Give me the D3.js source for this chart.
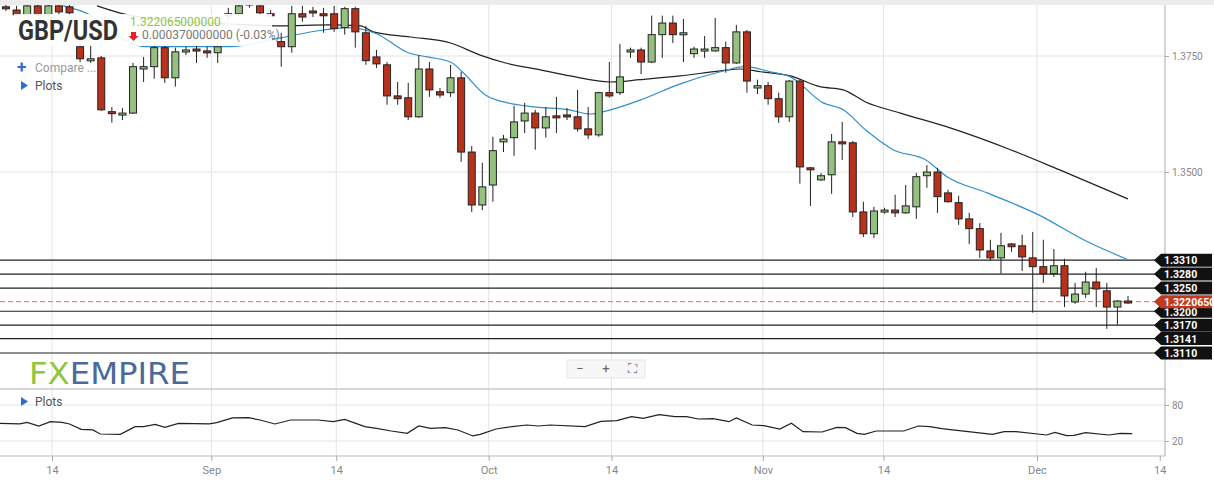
<!DOCTYPE html>
<html>
<head>
<meta charset="utf-8">
<script src="https://cdn.jsdelivr.net/npm/d3@7"></script>
<style>
  body { margin: 0; background: #fff; font-family: Roboto, "Open Sans", sans-serif; }
  svg { display: block; }
</style>
</head>
<body>
<div id="app"></div>
<script>
// daily candles, index 0..106 (left to right)
const opens  = [1.3856,1.3849,1.3839,1.3858,1.3839,1.3858,1.3856,1.3770,1.3742,1.3746,1.3630,1.3623,1.3627,1.3722,1.3727,1.3768,1.3703,1.3759,1.3765,1.3761,1.3757,1.3837,1.3841,1.3867,1.3858,1.3841,1.3781,1.3770,1.3841,1.3847,1.3841,1.3841,1.3811,1.3852,1.3800,1.3748,1.3731,1.3664,1.3660,1.3619,1.3722,1.3673,1.3671,1.3703,1.3543,1.3429,1.3472,1.3565,1.3574,1.3610,1.3627,1.3595,1.3621,1.3623,1.3619,1.3593,1.3580,1.3671,1.3671,1.3759,1.3763,1.3737,1.3796,1.3821,1.3796,1.3755,1.3761,1.3761,1.3768,1.3735,1.3802,1.3681,1.3686,1.3658,1.3619,1.3696,1.3509,1.3483,1.3494,1.3565,1.3563,1.3414,1.3367,1.3414,1.3418,1.3412,1.3425,1.3492,1.3500,1.3455,1.3434,1.3399,1.3378,1.3330,1.3315,1.3345,1.3341,1.3315,1.3296,1.3281,1.3298,1.3220,1.3237,1.3263,1.3244,1.3209,1.3222];
const closes = [1.3852,1.3839,1.3858,1.3839,1.3858,1.3845,1.3843,1.3744,1.3744,1.3634,1.3627,1.3627,1.3727,1.3727,1.3768,1.3703,1.3759,1.3763,1.3761,1.3757,1.3770,1.3841,1.3858,1.3860,1.3843,1.3839,1.3770,1.3841,1.3834,1.3843,1.3837,1.3809,1.3852,1.3802,1.3740,1.3733,1.3664,1.3658,1.3619,1.3722,1.3677,1.3666,1.3703,1.3543,1.3429,1.3468,1.3546,1.3571,1.3608,1.3627,1.3595,1.3619,1.3617,1.3619,1.3593,1.3580,1.3671,1.3664,1.3705,1.3763,1.3737,1.3796,1.3821,1.3796,1.3800,1.3765,1.3765,1.3768,1.3735,1.3802,1.3696,1.3686,1.3658,1.3619,1.3696,1.3511,1.3505,1.3492,1.3565,1.3561,1.3414,1.3367,1.3416,1.3418,1.3412,1.3427,1.3490,1.3500,1.3447,1.3436,1.3399,1.3378,1.3332,1.3315,1.3341,1.3339,1.3317,1.3296,1.3281,1.3298,1.3233,1.3237,1.3263,1.3248,1.3209,1.3222,1.3218];
const highs  = [1.3860,1.3858,1.3865,1.3865,1.3865,1.3867,1.3862,1.3785,1.3772,1.3750,1.3640,1.3638,1.3735,1.3748,1.3774,1.3774,1.3768,1.3770,1.3774,1.3770,1.3776,1.3854,1.3867,1.3871,1.3865,1.3849,1.3800,1.3858,1.3858,1.3856,1.3854,1.3858,1.3856,1.3856,1.3815,1.3763,1.3737,1.3694,1.3692,1.3752,1.3737,1.3681,1.3731,1.3716,1.3556,1.3520,1.3576,1.3580,1.3643,1.3649,1.3634,1.3640,1.3662,1.3638,1.3677,1.3640,1.3673,1.3737,1.3776,1.3768,1.3768,1.3837,1.3837,1.3837,1.3830,1.3770,1.3793,1.3832,1.3781,1.3817,1.3806,1.3699,1.3694,1.3671,1.3698,1.3698,1.3511,1.3498,1.3582,1.3608,1.3567,1.3436,1.3425,1.3423,1.3451,1.3472,1.3498,1.3515,1.3509,1.3462,1.3449,1.3412,1.3390,1.3354,1.3369,1.3347,1.3365,1.3371,1.3354,1.3334,1.3313,1.3261,1.3285,1.3293,1.3261,1.3224,1.3233];
const lows   = [1.3847,1.3837,1.3834,1.3837,1.3834,1.3837,1.3837,1.3737,1.3735,1.3632,1.3606,1.3612,1.3625,1.3694,1.3701,1.3692,1.3684,1.3752,1.3735,1.3746,1.3735,1.3828,1.3837,1.3854,1.3839,1.3834,1.3727,1.3757,1.3824,1.3834,1.3800,1.3802,1.3796,1.3768,1.3731,1.3724,1.3645,1.3645,1.3612,1.3617,1.3662,1.3660,1.3662,1.3522,1.3414,1.3418,1.3436,1.3543,1.3535,1.3584,1.3548,1.3574,1.3584,1.3612,1.3587,1.3571,1.3576,1.3660,1.3666,1.3746,1.3711,1.3735,1.3746,1.3778,1.3737,1.3746,1.3746,1.3759,1.3714,1.3733,1.3671,1.3668,1.3645,1.3606,1.3608,1.3475,1.3427,1.3481,1.3453,1.3526,1.3403,1.3360,1.3358,1.3410,1.3403,1.3410,1.3399,1.3466,1.3412,1.3434,1.3386,1.3345,1.3315,1.3309,1.3281,1.3328,1.3287,1.3197,1.3261,1.3274,1.3209,1.3216,1.3229,1.3209,1.3162,1.3171,1.3216];

// moving averages: [candle index, price]
const maFast = [[5.4,1.3858],[7.9,1.3839],[10.8,1.3790],[13.1,1.3770],[21.2,1.3770],[25.9,1.3789],[30.0,1.3806],[32.2,1.3811],[35.0,1.3798],[38.0,1.3757],[39.8,1.3748],[42.0,1.3737],[43.1,1.3716],[45.3,1.3666],[47.4,1.3649],[50.1,1.3640],[53.2,1.3634],[55.2,1.3625],[57.1,1.3634],[59.9,1.3655],[63.7,1.3690],[67.5,1.3716],[69.8,1.3727],[72.2,1.3716],[74.1,1.3705],[77.2,1.3649],[79.1,1.3634],[81.2,1.3591],[83.8,1.3548],[86.9,1.3526],[88.9,1.3490],[92.7,1.3455],[97.7,1.3406],[101.8,1.3354],[106,1.3311]];
const maSlow = [[8.6,1.3858],[11.4,1.3839],[14.6,1.3828],[21.2,1.3819],[25.9,1.3815],[30.6,1.3817],[33.5,1.3815],[34.7,1.3802],[38.2,1.3791],[42.0,1.3778],[44.8,1.3752],[47.2,1.3735],[50.5,1.3720],[53.3,1.3707],[57.1,1.3694],[59.9,1.3699],[63.7,1.3707],[67.5,1.3718],[69.4,1.3722],[71.3,1.3716],[74.1,1.3707],[76.9,1.3684],[79.1,1.3677],[81.2,1.3651],[84.5,1.3627],[89.2,1.3595],[94.9,1.3548],[99.6,1.3504],[106,1.3442]];

// lower pane oscillator: [candle index, value]
const osc = [[-0.6,49.5],[1.3,48.4],[2.0,51.1],[3.1,45.0],[4.2,52.2],[5.3,51.1],[6.0,48.4],[7.1,39.5],[8.2,38.4],[8.9,31.7],[10.8,31.1],[12.2,43.9],[13.0,43.9],[14.1,47.8],[15.0,42.8],[16.3,49.5],[19.2,48.4],[19.9,50.6],[21.4,58.4],[22.9,58.9],[24.0,55.0],[25.4,48.4],[26.9,55.0],[29.5,55.0],[30.9,52.2],[32.0,56.1],[33.9,43.9],[35.0,41.1],[36.4,36.7],[37.9,32.8],[39.0,45.0],[40.1,41.1],[41.5,42.2],[42.7,38.4],[44.1,28.4],[44.8,31.1],[46.3,40.0],[47.8,43.9],[49.2,46.7],[50.3,45.0],[51.4,46.7],[54.7,43.9],[56.2,52.8],[57.7,53.9],[59.1,60.6],[60.2,57.8],[61.7,63.9],[63.2,60.6],[64.3,60.6],[65.4,56.7],[66.8,57.2],[68.3,52.2],[69.0,58.3],[70.5,46.7],[71.6,45.6],[73.1,40.0],[74.2,49.5],[75.3,35.6],[77.1,35.0],[78.5,42.8],[79.3,42.2],[80.4,32.8],[81.1,31.1],[82.2,36.7],[84.8,36.7],[86.2,45.0],[87.3,43.9],[88.4,40.6],[93.2,31.1],[94.3,35.6],[95.4,35.6],[98.3,30.0],[99.1,34.4],[100.2,28.9],[100.9,29.4],[102.0,33.9],[104.2,30.0],[105.3,32.8],[106.4,32.2]];

const levels = [1.3310, 1.3280, 1.3250, 1.3200, 1.3170, 1.3141, 1.3110];
const lastPrice = 1.322065;
const priceTicks = [1.3750, 1.3500];
const oscTicks = [80, 20];
const dateTickPos = [4.35, 19.4, 31.2, 45.6, 57.2, 71.5, 82.9, 97.4, 109];
const dateTickLabels = ["14", "Sep", "14", "Oct", "14", "Nov", "14", "Dec", "14"];

const W = 1214, H = 484, axisX = 1165;
const svg = d3.select("#app").append("svg").attr("width", W).attr("height", H);

const x = d3.scaleLinear().domain([0, 106]).range([6, 1128]);
const y = d3.scaleLinear().domain([1.3110, 1.3750]).range([353, 56]);
const y2 = d3.scaleLinear().domain([20, 80]).range([441, 405]);

svg.append("rect").attr("width", W).attr("height", 5).attr("fill", "#ececec");

svg.append("defs").append("clipPath").attr("id", "main")
  .append("rect").attr("x", 0).attr("y", 5).attr("width", axisX).attr("height", 383);

// grid
const grid = svg.append("g").attr("stroke", "#e3e3e3").attr("stroke-width", 1);
dateTickPos.slice(0, -1).forEach(t => {
  grid.append("line").attr("x1", x(t)).attr("x2", x(t)).attr("y1", 5).attr("y2", 456);
});
priceTicks.forEach(t => grid.append("line").attr("x1", 0).attr("x2", axisX).attr("y1", y(t)).attr("y2", y(t)));
oscTicks.forEach(t => grid.append("line").attr("x1", 0).attr("x2", axisX).attr("y1", y2(t)).attr("y2", y2(t)));

const main = svg.append("g").attr("clip-path", "url(#main)");

// support / resistance
main.selectAll(".lvl").data(levels).join("line")
  .attr("x1", 0).attr("x2", axisX).attr("y1", d => y(d)).attr("y2", d => y(d))
  .attr("stroke", "#222").attr("stroke-width", 1.2);
main.append("line").attr("x1", 0).attr("x2", axisX)
  .attr("y1", y(lastPrice)).attr("y2", y(lastPrice))
  .attr("stroke", "#e0735f").attr("stroke-width", 1).attr("stroke-dasharray", "5,3");

// moving averages
const line = d3.line().x(d => x(d[0])).y(d => y(d[1])).curve(d3.curveMonotoneX);
main.append("path").attr("d", line(maSlow)).attr("fill", "none").attr("stroke", "#222").attr("stroke-width", 1.2);
main.append("path").attr("d", line(maFast)).attr("fill", "none").attr("stroke", "#2f8fd0").attr("stroke-width", 1.2);

// candles
const candles = d3.range(opens.length).map(i => ({ i, o: opens[i], c: closes[i], h: highs[i], l: lows[i] }));
const cg = main.selectAll(".c").data(candles).join("g");
cg.append("line")
  .attr("x1", d => x(d.i)).attr("x2", d => x(d.i))
  .attr("y1", d => y(d.h)).attr("y2", d => y(d.l))
  .attr("stroke", "#222").attr("stroke-width", 1);
cg.append("rect")
  .attr("x", d => x(d.i) - 3.5).attr("width", 7)
  .attr("y", d => y(Math.max(d.o, d.c)))
  .attr("height", d => Math.max(2, Math.abs(y(d.o) - y(d.c))))
  .attr("fill", d => d.c >= d.o ? "#94c17f" : "#b8311b")
  .attr("stroke", "#222").attr("stroke-width", 1);

// title overlay
svg.append("rect").attr("x", 14).attr("y", 14).attr("width", 258).attr("height", 32).attr("fill", "#fff").attr("opacity", 0.9);
svg.append("text").attr("x", 18).attr("y", 40).text("GBP/USD")
  .attr("font-size", 28).attr("font-weight", "bold").attr("fill", "#333").attr("font-family", "Roboto")
  .attr("textLength", 100).attr("lengthAdjust", "spacingAndGlyphs");
svg.append("text").attr("x", 130).attr("y", 26).text("1.322065000000").attr("font-size", 12).attr("fill", "#8dc63f");
svg.append("path").attr("d", "M131,32 h5 v4 h2.5 l-5,5 l-5,-5 h2.5 z").attr("fill", "#e8202a");
svg.append("text").attr("x", 142).attr("y", 39).text("0.000370000000 (-0.03%)").attr("font-size", 12).attr("fill", "#777");

svg.append("text").attr("x", 17).attr("y", 73).text("+").attr("font-size", 17).attr("font-weight", "bold").attr("fill", "#2a6fd0");
svg.append("text").attr("x", 35).attr("y", 72).text("Compare ...").attr("font-size", 12).attr("fill", "#999");
svg.append("path").attr("d", "M21,81 l7,4.5 l-7,4.5 z").attr("fill", "#2a6fd0");
svg.append("text").attr("x", 35).attr("y", 90).text("Plots").attr("font-size", 12).attr("fill", "#555");

// logo + zoom controls
const logo = svg.append("text").attr("x", 29).attr("y", 384).attr("font-size", 30).attr("font-family", "'Liberation Sans Narrow', 'DejaVu Sans Condensed', Roboto")
  .attr("textLength", 161).attr("lengthAdjust", "spacingAndGlyphs");
logo.append("tspan").text("FX").attr("fill", "#8dc63f");
logo.append("tspan").text("EMPIRE").attr("fill", "#4c6a99");
svg.append("rect").attr("x", 567).attr("y", 360).attr("width", 78).attr("height", 18).attr("fill", "#f7f7f7").attr("stroke", "#e8e8e8");
[["−", 580], ["+", 606], ["⛶", 632]].forEach(([t, px]) => {
  svg.append("text").attr("x", px).attr("y", 373).attr("text-anchor", "middle").text(t).attr("font-size", 13).attr("fill", "#666");
});

// lower pane
svg.append("line").attr("x1", 0).attr("x2", axisX).attr("y1", 389).attr("y2", 389).attr("stroke", "#c8c8c8").attr("stroke-width", 1.5);
svg.append("line").attr("x1", 0).attr("x2", axisX).attr("y1", 456).attr("y2", 456).attr("stroke", "#bbb");
svg.append("path").attr("d", "M21,397 l7,4.5 l-7,4.5 z").attr("fill", "#2a6fd0");
svg.append("text").attr("x", 35).attr("y", 406).text("Plots").attr("font-size", 12).attr("fill", "#555");
svg.append("path").attr("d", d3.line().x(d => x(d[0])).y(d => y2(d[1]))(osc)).attr("fill", "none").attr("stroke", "#222").attr("stroke-width", 1.2);

// right axis
svg.append("line").attr("x1", axisX).attr("x2", axisX).attr("y1", 5).attr("y2", 456).attr("stroke", "#aaa");
const ra = svg.append("g").attr("transform", `translate(${axisX},0)`)
  .call(d3.axisRight(y).tickValues(priceTicks).tickSize(4).tickFormat(d3.format(".4f")));
const ra2 = svg.append("g").attr("transform", `translate(${axisX},0)`)
  .call(d3.axisRight(y2).tickValues(oscTicks).tickSize(4));
[ra, ra2].forEach(g => {
  g.select(".domain").remove();
  g.selectAll("line").attr("stroke", "#aaa");
  g.selectAll("text").attr("fill", "#888").attr("font-size", 10).attr("font-family", "Roboto");
});

// bottom axis
const ba = svg.append("g").attr("transform", "translate(0,456)")
  .call(d3.axisBottom(x).tickValues(dateTickPos).tickSize(5).tickFormat((d, i) => dateTickLabels[i]));
ba.select(".domain").remove();
ba.selectAll("line").attr("stroke", "#aaa");
ba.selectAll("text").attr("fill", "#888").attr("font-size", 11).attr("font-family", "Roboto").attr("dy", "0.9em");

// level tags (1.3200 sits partly under the current-price tag, as in the source)
function tag(v, label, fill, dy) {
  const yy = y(v);
  svg.append("path").attr("d", `M1154,${yy} L1161,${yy - 6.5} H1212 V${yy + 6.5} H1161 Z`).attr("fill", fill);
  svg.append("text").attr("x", 1164).attr("y", yy + dy).text(label)
    .attr("font-size", 10.5).attr("font-weight", "bold").attr("fill", "#fff").attr("font-family", "Roboto");
}
levels.forEach(v => tag(v, v.toFixed(4), "#111", Math.abs(y(v) - y(lastPrice)) <= 12 ? 5 : 4));
tag(lastPrice, "1.3220650", "#c23a1e", 4);
</script>
</body>
</html>
